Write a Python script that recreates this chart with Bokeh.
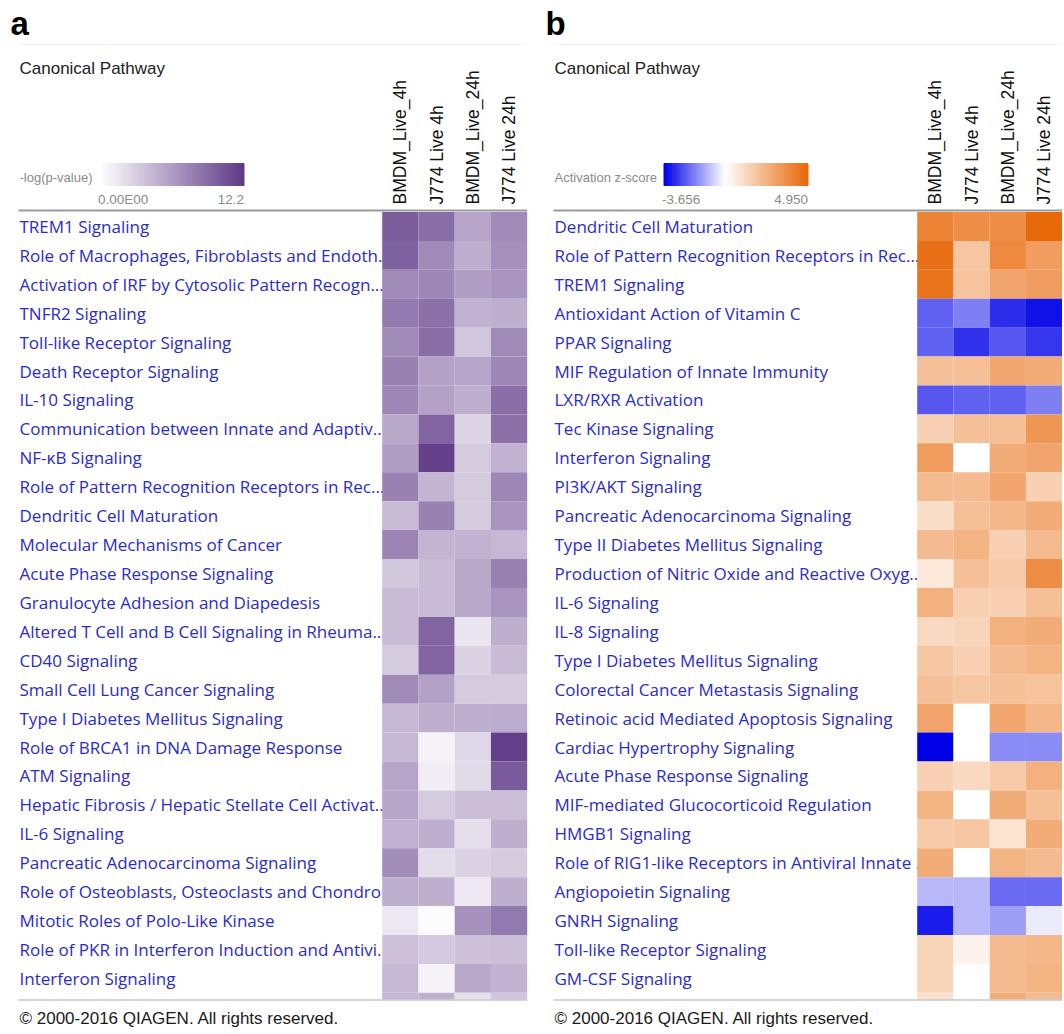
import numpy as np
from bokeh.plotting import figure
from bokeh.models import Range1d, LinearColorMapper, ColumnDataSource
from bokeh.transform import transform
from bokeh.layouts import row
from bokeh.embed import file_html
from bokeh.resources import INLINE
from bokeh.core.properties import value

NAN = float("nan")

# ---------------- data ----------------
samples = ["BMDM_Live_4h", "J774 Live 4h", "BMDM_Live_24h", "J774 Live 24h"]

pathways_a = [
    "TREM1 Signaling",
    "Role of Macrophages, Fibroblasts and Endoth...",
    "Activation of IRF by Cytosolic Pattern Recogn...",
    "TNFR2 Signaling",
    "Toll-like Receptor Signaling",
    "Death Receptor Signaling",
    "IL-10 Signaling",
    "Communication between Innate and Adaptiv...",
    "NF-\u03baB Signaling",
    "Role of Pattern Recognition Receptors in Rec...",
    "Dendritic Cell Maturation",
    "Molecular Mechanisms of Cancer",
    "Acute Phase Response Signaling",
    "Granulocyte Adhesion and Diapedesis",
    "Altered T Cell and B Cell Signaling in Rheuma...",
    "CD40 Signaling",
    "Small Cell Lung Cancer Signaling",
    "Type I Diabetes Mellitus Signaling",
    "Role of BRCA1 in DNA Damage Response",
    "ATM Signaling",
    "Hepatic Fibrosis / Hepatic Stellate Cell Activat...",
    "IL-6 Signaling",
    "Pancreatic Adenocarcinoma Signaling",
    "Role of Osteoblasts, Osteoclasts and Chondro...",
    "Mitotic Roles of Polo-Like Kinase",
    "Role of PKR in Interferon Induction and Antivi...",
    "Interferon Signaling",
]

# -log(p-value), columns follow `samples`
logp_a = [
    [10.0, 9.0, 5.5, 7.2],
    [9.8, 7.2, 5.0, 6.8],
    [7.2, 7.4, 6.0, 6.6],
    [8.2, 8.8, 4.8, 5.0],
    [7.2, 9.0, 3.5, 7.2],
    [7.8, 5.8, 5.6, 7.4],
    [7.4, 5.8, 5.0, 9.0],
    [5.4, 9.6, 2.6, 8.8],
    [6.0, 11.8, 3.2, 4.8],
    [7.8, 4.6, 3.2, 7.4],
    [4.2, 7.8, 3.2, 6.6],
    [7.6, 4.6, 4.8, 4.4],
    [3.4, 4.2, 5.4, 7.8],
    [4.2, 4.2, 5.4, 6.6],
    [4.2, 9.6, 1.6, 5.0],
    [3.2, 9.6, 2.8, 4.2],
    [7.2, 5.8, 3.2, 3.2],
    [4.4, 5.0, 5.0, 5.2],
    [4.4, 0.8, 2.5, 11.8],
    [5.6, 1.1, 2.3, 10.2],
    [5.6, 3.2, 4.0, 4.0],
    [4.8, 5.0, 2.0, 5.0],
    [7.0, 2.2, 2.8, 3.2],
    [5.0, 5.0, 1.5, 5.0],
    [1.5, 0.2, 6.8, 8.2],
    [3.8, 3.3, 3.8, 4.0],
    [4.4, 0.8, 5.4, 4.8],
]
logp_a_next = [4.4, 5.0, 2.0, 3.6]   # next (scrolled, partly visible) row
logp_range = [0.0, 12.2]
logp_tick_labels = ["0.00E00", "12.2"]

pathways_b = [
    "Dendritic Cell Maturation",
    "Role of Pattern Recognition Receptors in Rec...",
    "TREM1 Signaling",
    "Antioxidant Action of Vitamin C",
    "PPAR Signaling",
    "MIF Regulation of Innate Immunity",
    "LXR/RXR Activation",
    "Tec Kinase Signaling",
    "Interferon Signaling",
    "PI3K/AKT Signaling",
    "Pancreatic Adenocarcinoma Signaling",
    "Type II Diabetes Mellitus Signaling",
    "Production of Nitric Oxide and Reactive Oxyg...",
    "IL-6 Signaling",
    "IL-8 Signaling",
    "Type I Diabetes Mellitus Signaling",
    "Colorectal Cancer Metastasis Signaling",
    "Retinoic acid Mediated Apoptosis Signaling",
    "Cardiac Hypertrophy Signaling",
    "Acute Phase Response Signaling",
    "MIF-mediated Glucocorticoid Regulation",
    "HMGB1 Signaling",
    "Role of RIG1-like Receptors in Antiviral Innate ...",
    "Angiopoietin Signaling",
    "GNRH Signaling",
    "Toll-like Receptor Signaling",
    "GM-CSF Signaling",
]

# activation z-score (NaN = not computed, shown white)
zscore_b = [
    [4.06, 3.71, 3.71, 4.95],
    [4.70, 1.88, 3.86, 3.22],
    [4.55, 1.98, 2.97, 3.22],
    [-2.27, -1.83, -3.00, -3.40],
    [-2.27, -2.92, -2.38, -2.85],
    [2.08, 2.08, 2.87, 2.72],
    [-2.38, -2.27, -2.27, -1.83],
    [1.49, 2.08, 2.08, 3.47],
    [3.22, NAN, 2.72, 2.97],
    [2.23, 2.23, 2.97, 1.49],
    [1.09, 2.08, 2.38, 2.72],
    [2.23, 2.48, 1.49, 2.23],
    [0.74, 2.08, 1.73, 3.71],
    [2.57, 1.58, 1.49, 2.08],
    [1.24, 1.39, 2.57, 2.72],
    [1.88, 1.49, 2.23, 2.48],
    [2.08, 1.88, 2.08, 1.98],
    [2.97, NAN, 2.87, 2.38],
    [-3.656, NAN, -1.65, -1.65],
    [1.49, 1.24, 1.73, 2.57],
    [2.48, NAN, 2.72, 2.08],
    [1.73, 1.88, 0.89, 2.72],
    [2.72, NAN, 2.48, 2.23],
    [-1.02, -1.02, -2.12, -2.12],
    [-3.22, -1.02, -1.39, -0.29],
    [1.39, 0.40, 2.23, 2.38],
    [1.39, NAN, 2.23, 2.48],
]
zscore_b_next = [0.99, NAN, 2.72, 2.23]
zscore_range = [-3.656, 4.950]
zscore_tick_labels = ["-3.656", "4.950"]

# ---------------- colour scales ----------------
def mix(c0, c1, t):
    return "#%02x%02x%02x" % tuple(int(round(a + (b - a) * t)) for a, b in zip(c0, c1))

WHITE = (255, 255, 255)
PURPLE = (95, 58, 135)
BLUE = (0, 0, 232)
ORANGE = (232, 105, 10)

purple_pal = [mix(WHITE, PURPLE, t) for t in np.linspace(0, 1, 256)]
lo, hi = zscore_range
div_pal = []
for v in np.linspace(lo, hi, 256):
    if v < 0:
        div_pal.append(mix(WHITE, BLUE, v / lo))
    else:
        div_pal.append(mix(WHITE, ORANGE, v / hi))

map_a = LinearColorMapper(palette=purple_pal, low=logp_range[0], high=logp_range[1], nan_color="white")
map_b = LinearColorMapper(palette=div_pal, low=zscore_range[0], high=zscore_range[1], nan_color="white")

# ---------------- layout constants (page pixels) ----------------
FIG_H = 1032
ROW_TOP = 211.5
ROW_H = 28.92
CLIP_Y = 999.0

ARIAL = value("Liberation Sans")
OPEN = value("Open Sans")


def panel(letter, fig_left, fig_w, heat_left, col_w, names, vals, nxt, mapper,
          legend_title, bar_x0, bar_x1, tick_labels, line_x0):
    def px(X):
        return (X - heat_left) / col_w

    def py(Y):
        return (Y - ROW_TOP) / ROW_H

    line_x1 = min(heat_left + 4 * col_w, fig_left + fig_w)
    p = figure(width=fig_w, height=FIG_H,
               x_range=Range1d(px(fig_left), px(fig_left + fig_w)),
               y_range=Range1d(py(FIG_H), py(0)),
               output_backend="svg", toolbar_location=None,
               x_axis_location=None, y_axis_location=None,
               min_border=0, min_border_left=0, min_border_right=0,
               min_border_top=0, min_border_bottom=0)
    p.grid.visible = False
    p.outline_line_color = None
    p.background_fill_color = "white"
    p.border_fill_color = "white"

    # row labels (drawn first so that the heatmap covers any overflow)
    n = len(names)
    p.text(x=[px(line_x0 + 1)] * n, y=np.arange(n) + 0.5, text=names,
           text_font=OPEN, text_font_size="17px", text_color="#2b2bcc",
           text_align="left", text_baseline="middle")

    # heatmap cells
    all_vals = list(vals) + [nxt]
    clip = py(CLIP_Y)
    L, R, T, B, V = [], [], [], [], []
    for r, rowv in enumerate(all_vals):
        for c, v in enumerate(rowv):
            L.append(c)
            R.append(c + 1)
            T.append(r)
            B.append(min(r + 1, clip))
            V.append(v)
    src = ColumnDataSource(dict(left=L, right=R, top=T, bottom=B, val=V))
    p.quad(left="left", right="right", top="top", bottom="bottom",
           fill_color=transform("val", mapper), line_color=None, source=src)

    # column headers (rotated)
    p.text(x=np.arange(len(samples)) + 0.5, y=[py(204)] * len(samples), text=samples,
           angle=np.pi / 2, text_font=ARIAL, text_font_size="17.5px",
           text_color="#111111", text_align="left", text_baseline="middle")

    # panel letter and title
    p.text(x=[px(fig_left + (10 if letter == "a" else 9))], y=[py(23)], text=[letter],
           text_font=ARIAL, text_font_size="33px", text_font_style="bold",
           text_color="#000000", text_align="left", text_baseline="middle")
    p.text(x=[px(line_x0 + 1)], y=[py(68)], text=["Canonical Pathway"],
           text_font=ARIAL, text_font_size="17px", text_color="#222222",
           text_align="left", text_baseline="middle")

    # legend
    p.text(x=[px(line_x0 + 1)], y=[py(177)], text=[legend_title],
           text_font=ARIAL, text_font_size="13px", text_color="#8a8a8a",
           text_align="left", text_baseline="middle")
    nb = 120
    edges = np.linspace(px(bar_x0), px(bar_x1), nb + 1)
    gv = np.linspace(mapper.low, mapper.high, nb)
    gsrc = ColumnDataSource(dict(left=edges[:-1], right=edges[1:], val=gv))
    p.quad(left="left", right="right", top=py(163), bottom=py(185),
           fill_color=transform("val", mapper), line_color=transform("val", mapper),
           line_width=1, source=gsrc)
    p.text(x=[px(bar_x0 - 2)], y=[py(199)], text=[tick_labels[0]],
           text_font=ARIAL, text_font_size="13.5px", text_color="#8a8a8a",
           text_align="left", text_baseline="middle")
    p.text(x=[px(bar_x1)], y=[py(199)], text=[tick_labels[1]],
           text_font=ARIAL, text_font_size="13.5px", text_color="#8a8a8a",
           text_align="right", text_baseline="middle")

    # rules
    p.segment(x0=[px(line_x0)], x1=[px(line_x1)], y0=[py(44)], y1=[py(44)],
              line_color="#f1f1f1", line_width=1)
    p.segment(x0=[px(line_x0)], x1=[px(line_x1)], y0=[py(210)], y1=[py(210)],
              line_color="#9a9a9a", line_width=2)
    p.segment(x0=[px(line_x0)], x1=[px(line_x1)], y0=[py(CLIP_Y + 0.5)], y1=[py(CLIP_Y + 0.5)],
              line_color="#c4c4c4", line_width=1.5)

    # footer
    p.text(x=[px(line_x0 + 1)], y=[py(1018)], text=["\u00a9 2000-2016 QIAGEN. All rights reserved."],
           text_font=ARIAL, text_font_size="17px", text_color="#1a1a1a",
           text_align="left", text_baseline="middle")
    return p


pa = panel("a", 0, 536, 381.7, 36.25, pathways_a, logp_a, logp_a_next, map_a,
           "-log(p-value)", 99.5, 243.5, logp_tick_labels, 18)
pb = panel("b", 536, 526, 916.7, 36.25, pathways_b, zscore_b, zscore_b_next, map_b,
           "Activation z-score", 663.5, 807.5, zscore_tick_labels, 553)

layout = row(pa, pb, spacing=0)
open("out.html", "w").write(file_html(layout, INLINE))
